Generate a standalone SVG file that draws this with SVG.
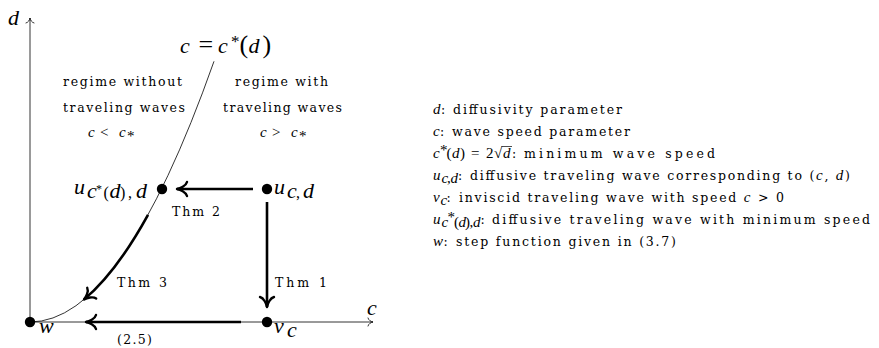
<svg xmlns="http://www.w3.org/2000/svg" width="879" height="348" viewBox="0 0 879 348">
<defs>
<style>
.thin{fill:none;stroke:#000;stroke-width:0.8}
.thk{fill:none;stroke:#000;stroke-width:2.6;marker-end:url(#ah)}
.ax{fill:none;stroke:#000;stroke-width:0.8;marker-end:url(#sa)}
.t{font-family:"DejaVu Serif",serif;font-size:12.5px;fill:#000}
.lm{font-family:"Liberation Serif",serif;font-style:italic;font-size:15px;fill:#000}
.lr{font-family:"Liberation Serif",serif;font-style:normal;font-size:15px;fill:#000}
.bm{font-family:"Liberation Serif",serif;font-style:italic;font-size:22px;fill:#000}
.br{font-family:"Liberation Serif",serif;font-style:normal;fill:#000}
.dot{fill:#000}
</style>
<marker id="ah" markerUnits="userSpaceOnUse" markerWidth="20" markerHeight="20" refX="0" refY="0" orient="auto" overflow="visible">
<path d="M-10,-7 C-9,-3 -3,-0.6 0,0 C-3,0.6 -9,3 -10,7" fill="none" stroke="#000" stroke-width="2.4" stroke-linecap="round" stroke-linejoin="round"/>
</marker>
<marker id="sa" markerUnits="userSpaceOnUse" markerWidth="10" markerHeight="10" refX="0" refY="0" orient="auto" overflow="visible">
<path d="M-5,-4 C-4.5,-1.7 -2,-0.4 0,0 C-2,0.4 -4.5,1.7 -5,4" fill="none" stroke="#000" stroke-width="0.8" stroke-linecap="round" stroke-linejoin="round"/>
</marker>
</defs>

<g id="axes">
<path class="ax" d="M30,322 V18"/>
<path class="ax" d="M30,322 H373"/>
<text class="bm" font-size="24" x="8" y="25">d</text>
<text class="bm" font-size="24" x="367" y="315">c</text>
</g>

<g id="curve">
<path class="thin" d="M30,322 Q122,322 214,61.3"/>
<text class="bm" font-size="26" x="180" y="53">c</text>
<text class="br" font-size="26" x="198.5" y="53">=</text>
<text class="bm" font-size="26" x="218" y="53">c</text>
<text class="br" font-size="17" x="231" y="47">*</text>
<text class="br" font-size="26" x="239.5" y="53">(</text>
<text class="bm" font-size="26" x="248.5" y="53">d</text>
<text class="br" font-size="26" x="262.5" y="53">)</text>
</g>

<g id="regions">
<text class="t" x="63" y="86" textLength="119" lengthAdjust="spacing">regime without</text>
<text class="t" x="63" y="112" textLength="122" lengthAdjust="spacing">traveling waves</text>
<text class="lm" x="88" y="137">c</text>
<text class="lr" x="100" y="137">&lt;</text>
<text class="lm" x="119" y="137">c</text>
<text class="lr" font-size="12" x="127" y="141">*</text>
<text class="t" x="235" y="86" textLength="93" lengthAdjust="spacing">regime with</text>
<text class="t" x="223" y="112" textLength="119" lengthAdjust="spacing">traveling waves</text>
<text class="lm" x="260" y="137">c</text>
<text class="lr" x="272" y="137">&gt;</text>
<text class="lm" x="291" y="137">c</text>
<text class="lr" font-size="12" x="299" y="141">*</text>
</g>

<g id="connectors">
<path class="thk" d="M253,189 H177"/>
<path class="thk" d="M267,202 V307"/>
<path class="thk" d="M241,322 H86"/>
<path class="thk" d="M148,214.8 Q116,272.9 84,299.5"/>
<text class="t" x="172" y="216" textLength="48" lengthAdjust="spacing">Thm 2</text>
<text class="t" x="117" y="287" textLength="50" lengthAdjust="spacing">Thm 3</text>
<text class="t" x="275" y="287" textLength="52" lengthAdjust="spacing">Thm 1</text>
<text class="t" x="117" y="344" textLength="35" lengthAdjust="spacing">(2.5)</text>
</g>

<g id="node-w">
<circle class="dot" cx="30" cy="322" r="5.2"/>
<text class="bm" x="39" y="333">w</text>
</g>

<g id="node-ustar">
<circle class="dot" cx="162" cy="189" r="5.2"/>
<text class="bm" x="74" y="194">u</text>
<text class="bm" font-size="16" x="87" y="198">c</text>
<text class="br" font-size="12" x="96" y="193">*</text>
<text class="br" font-size="16" x="103.5" y="198">(</text>
<text class="bm" font-size="16" x="109.5" y="198">d</text>
<text class="br" font-size="16" x="120" y="198">)</text>
<text class="br" font-size="16" x="128" y="198">,</text>
<text class="bm" font-size="16" x="136" y="198">d</text>
</g>

<g id="node-ucd">
<circle class="dot" cx="267" cy="189" r="5.2"/>
<text class="bm" x="274" y="194">u</text>
<text class="bm" font-size="16" x="287" y="198">c</text>
<text class="br" font-size="16" x="296" y="198">,</text>
<text class="bm" font-size="16" x="303" y="198">d</text>
</g>

<g id="node-vc">
<circle class="dot" cx="267" cy="322" r="5.2"/>
<text class="bm" x="274" y="333">v</text>
<text class="bm" font-size="16" x="287" y="337">c</text>
</g>

<g id="legend">
<text class="lm" x="433" y="114">d</text>
<text class="t" x="441" y="114">:</text>
<text class="t" x="453" y="114" textLength="169" lengthAdjust="spacing">diffusivity parameter</text>

<text class="lm" x="433" y="136">c</text>
<text class="t" x="440" y="136">:</text>
<text class="t" x="452" y="136" textLength="178" lengthAdjust="spacing">wave speed parameter</text>

<text class="lm" x="433" y="158">c</text>
<text class="lr" font-size="11" x="440" y="155">*</text>
<text class="lr" x="446.5" y="158">(</text>
<text class="lm" x="452" y="158">d</text>
<text class="lr" x="460" y="158">)</text>
<text class="lr" x="471" y="158">=</text>
<text class="lr" x="486" y="158">2</text>
<text class="lr" x="494" y="158">√</text>
<line x1="501.5" y1="146.5" x2="512" y2="146.5" stroke="#000" stroke-width="0.7"/>
<text class="lm" x="503" y="158">d</text>
<text class="t" x="512" y="158">:</text>
<text class="t" x="524" y="158" textLength="191" lengthAdjust="spacing">minimum wave speed</text>

<text class="lm" x="433" y="180">u</text>
<text class="lm" font-size="11" x="441.5" y="183">c</text>
<text class="lr" font-size="11" x="447" y="183">,</text>
<text class="lm" font-size="11" x="450.5" y="183">d</text>
<text class="t" x="458" y="180">:</text>
<text class="t" x="470" y="180" textLength="380" lengthAdjust="spacing">diffusive traveling wave corresponding to (<tspan class="lm">c</tspan>, <tspan class="lm">d</tspan>)</text>

<text class="lm" x="433" y="202">v</text>
<text class="lm" font-size="11" x="440.5" y="205">c</text>
<text class="t" x="446.5" y="202">:</text>
<text class="t" x="459" y="202" textLength="325" lengthAdjust="spacing">inviscid traveling wave with speed <tspan class="lm">c</tspan> &gt; 0</text>

<text class="lm" x="433" y="224">u</text>
<text class="lm" font-size="11" x="441.5" y="227">c</text>
<text class="lr" font-size="8" x="447.5" y="221.5">*</text>
<text class="lr" font-size="11" x="454" y="227">(</text>
<text class="lm" font-size="11" x="458.5" y="227">d</text>
<text class="lr" font-size="11" x="465" y="227">)</text>
<text class="lr" font-size="11" x="469.5" y="227">,</text>
<text class="lm" font-size="11" x="473" y="227">d</text>
<text class="t" x="480.5" y="224">:</text>
<text class="t" x="492" y="224" textLength="378" lengthAdjust="spacing">diffusive traveling wave with minimum speed</text>

<text class="lm" x="433" y="246">w</text>
<text class="t" x="443.5" y="246">:</text>
<text class="t" x="456" y="246" textLength="220" lengthAdjust="spacing">step function given in (3.7)</text>
</g>
</svg>
